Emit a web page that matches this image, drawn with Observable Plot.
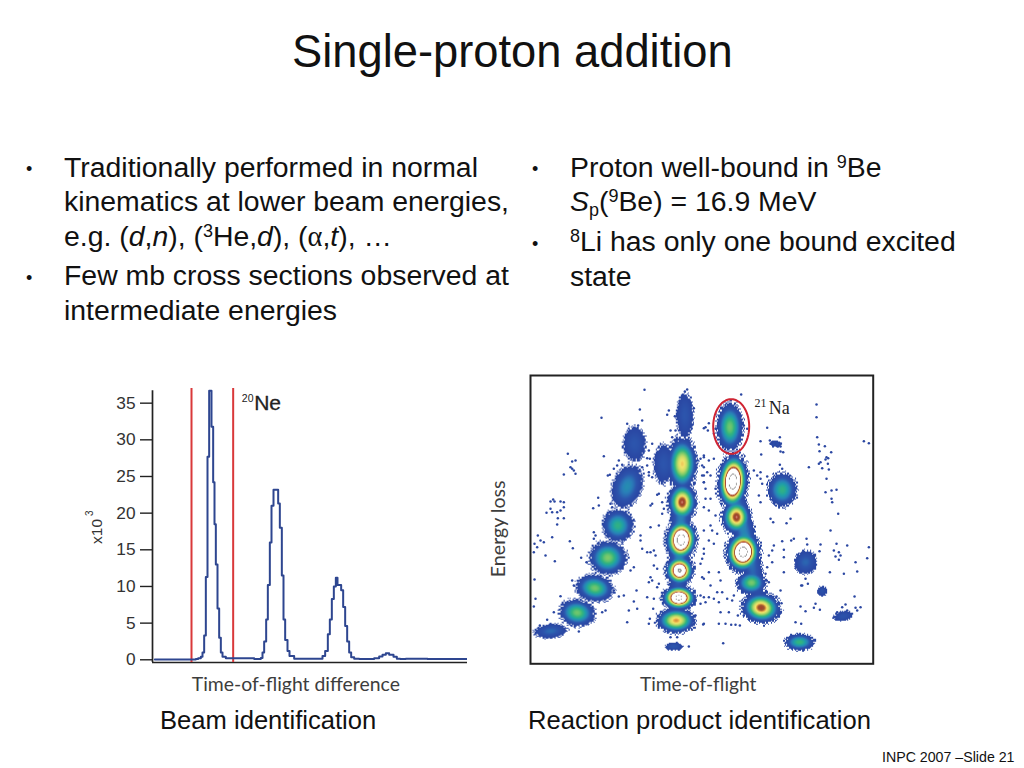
<!DOCTYPE html>
<html><head><meta charset="utf-8">
<script src="https://cdn.jsdelivr.net/npm/d3@7"></script>
<script src="https://cdn.jsdelivr.net/npm/@observablehq/plot@0.6"></script>
<style>
html,body{margin:0;padding:0;background:#fff;width:1024px;height:768px;overflow:hidden}
body{font-family:"Liberation Sans",Arial,sans-serif;color:#111;position:relative}
.t{position:absolute;white-space:nowrap;line-height:34px;font-size:28.4px}
.t sup{font-size:18px;line-height:0;vertical-align:9px}
.t sub{font-size:18px;line-height:0;vertical-align:-5px}
.b{position:absolute;font-size:18px;line-height:20px}
.chart{position:absolute}
.chart svg{display:block;overflow:visible}
#pid image{filter:blur(0.35px)}
</style></head><body>
<div class="t" style="left:292px;top:30px;font-size:45.3px;line-height:44px">Single-proton addition</div>

<div class="b" style="left:26px;top:159px">•</div>
<div class="t" style="left:64px;top:150px">Traditionally performed in normal</div>
<div class="t" style="left:64px;top:184px">kinematics at lower beam energies,</div>
<div class="t" style="left:64px;top:219px">e.g. (<i>d</i>,<i>n</i>), (<sup>3</sup>He,<i>d</i>), (<span style="font-family:'Liberation Serif'">α</span>,<i>t</i>), …</div>
<div class="b" style="left:26px;top:268px">•</div>
<div class="t" style="left:64px;top:258px">Few mb cross sections observed at</div>
<div class="t" style="left:64px;top:293px">intermediate energies</div>

<div class="b" style="left:532px;top:159px">•</div>
<div class="t" style="left:570px;top:150px">Proton well-bound in <sup>9</sup>Be</div>
<div class="t" style="left:570px;top:184px"><i>S</i><sub>p</sub>(<sup>9</sup>Be) = 16.9 MeV</div>
<div class="b" style="left:532px;top:234px">•</div>
<div class="t" style="left:570px;top:224px"><sup>8</sup>Li has only one bound excited</div>
<div class="t" style="left:570px;top:259px">state</div>

<div class="chart" id="beam" style="left:80px;top:375px"></div>
<div class="chart" id="pid" style="left:485px;top:365px"></div>

<div class="t" style="left:160px;top:703px;font-size:25.6px">Beam identification</div>
<div class="t" style="left:528px;top:703px;font-size:25.6px">Reaction product identification</div>
<div class="t" style="left:882px;top:749px;font-size:14.2px;line-height:16px">INPC 2007 –Slide 21</div>

<script>
// ---- Beam identification spectrum (arbitrary time-of-flight channel, counts ×10³)
const beamTof = [7,85,130,137,145,150,155,160,165,170,177,182,186,190,195,200,205,210,220,242,275,305,325,330,335,341,346,352,357,363,377,382,388,393,398,405,411,425,485,510,518,526,532,538,544,550,555,566,572,578,584,590,596,605,620,665,680,690,700,710,723,733,743,760,825,845,945];
const beamCounts = [0.05,0.05,0.1,0.2,0.4,1.0,3.3,11.3,27.7,36.7,31.8,24.2,18.5,13,7,3,1.0,0.4,0.2,0.2,0.2,0.1,0.25,1.0,2.5,5.5,10.2,16,21,23.2,21.3,18,11.5,5.5,2.7,1.2,0.5,0.15,0.15,0.5,1.2,3.5,5.5,8.3,10,11.2,10.2,9.5,7.2,4.6,2.5,1.0,0.35,0.15,0.1,0.2,0.45,0.7,0.9,0.7,0.4,0.15,0.1,0.15,0.1,0.1,0.1];
const beamTicks = [0,5,10,15,20,25,30,35];
const gateTof = [117,242];

// ---- Particle identification clusters (time-of-flight, energy loss, half widths, tilt, peak level)
const clusterTof   = [60,140,193,232,262,290,312,430,437,445,447,452,455,455,400,463,598,607,617,637,662,692,807,755,825,735,938,875,448,644];
const clusterLoss  = [98,153,227,318,415,532,660,52,130,198,280,372,485,600,600,745,710,547,440,335,243,168,65,522,305,660,143,218,370,380];
const clusterHalfX = [47,53,55,55,46,43,33,26,58,52,44,48,44,45,30,25,40,46,44,52,44,58,44,43,33,16,28,14,32,32];
const clusterHalfY = [21,40,40,50,48,65,50,12,38,38,44,62,58,80,57,65,72,85,52,62,36,46,25,50,35,10,14,15,240,230];
const clusterTilt  = [5,-8,-10,0,0,-20,0,0,0,0,0,-6,0,0,0,0,0,-4,0,-8,0,-8,0,0,-25,0,10,0,-2.5,12.6];
const clusterPeak  = [1.5,4.8,4.8,5,3.8,2.4,1.0,1.0,7.4,13,12.2,13.5,8.2,7,1.0,1.0,4.8,14,8.2,13.5,4.8,8.2,4,3.8,1.4,0.7,0.8,0.7,2.2,2.2];
const densityLevels = [0,1,2,3,4,5,6,6.8,7.2,7.8,8.3,8.6,8.9,12,12.1,12.4,12.5];
const densityColors = ["#2a47a3","#2c55ad","#2a7fb8","#1fa0a8","#35b57c","#7fcb6a","#c9dc66","#f1e36c","#eeb04a","#9a5a30","#a83a2a","#e8c8a8","#ffffff","#ffffff","#888888","#888888","#ffffff"];

// ---- Isolated counts, one list per quadrant with its own origin
const upperLeftTof  = [342,463,470,213,328,415,410,433,490,335,112,125,135,120,130,125,100,135,220,290,323,265,260,250,275,232,238,68,60,72,90,100,100,90,80,65,60,48,100,82,203,188,205,240,245,365,355,358,350,335,350,355,355,365,385,380,365,360,395,400,395,420,435,425,520,520,515,520,520];
const upperLeftDrop = [43,48,42,127,102,105,118,122,98,135,235,258,255,275,285,280,297,295,242,145,150,255,270,280,268,300,298,372,378,378,378,380,395,405,410,410,400,412,428,428,367,398,390,385,395,205,225,250,248,275,270,290,300,305,355,358,385,390,380,400,415,165,165,185,158,240,270,300,320];
const upperRightTof  = [122,348,348,200,180,238,210,215,225,230,240,208,240,182,248,240,238,245,325,350,355,373,392,357,378,383,375,360,355,382,365,385,378,375,393,408,393,395,413,490,505,200,180,180,160,170,185,175,180,210,270,15,25,22,45,40,0,10,25,40,10,20,5,30,10,15,45,15,30,10,25,45,130,140];
const upperRightDrop = [57,87,125,157,197,185,205,200,205,212,205,195,213,237,230,228,268,280,275,185,207,212,230,227,245,248,252,260,265,265,278,282,310,350,345,343,370,380,415,197,203,303,290,310,285,300,325,360,380,430,430,155,143,165,160,175,250,245,255,250,275,290,300,300,320,340,340,370,370,395,405,420,150,160];
const lowerLeftTof  = [80,22,30,12,20,10,40,65,118,127,73,45,12,15,10,90,125,130,152,190,195,190,168,300,310,318,250,265,280,310,320,295,290,225,215,70,50,28,145,330,330,335,350,360,370,375,370,380,360,365,355,385,380,350,370,368,358,355,420,440,475,495,490,490,520,510,510,515,510,520,360,385];
const lowerLeftDrop = [12,45,60,70,80,95,65,50,62,83,122,105,177,235,258,227,180,195,112,35,45,55,125,150,140,210,210,228,225,243,265,270,305,270,275,275,298,315,333,45,60,85,95,95,90,105,135,145,170,180,185,190,200,230,235,265,295,310,350,350,378,285,300,310,310,250,225,170,130,100,20,15];
const lowerRightTof  = [218,258,390,245,272,280,318,320,360,357,408,440,505,400,415,420,405,415,465,500,388,430,470,250,220,215,250,250,205,215,200,195,205,315,305,322,302,345,340,358,300,315,285,302,462,435,425,440,465,480,470,410,400,30,10,35,50,25,40,10,5,25,55,60,10,30,50,65,10,25,40,15,55,80,95,100,60,85,112,130,8,55,75,92,105,118,68,240,228,243];
const lowerRightDrop = [5,8,30,62,60,55,55,72,72,92,70,75,80,90,95,105,108,118,125,113,155,160,153,155,75,90,88,110,105,125,140,160,185,175,195,190,195,250,262,268,258,272,305,310,228,252,260,270,262,260,270,275,290,15,30,30,40,60,70,85,115,155,155,180,175,195,215,215,230,230,235,245,245,235,240,225,275,275,285,285,312,310,310,313,313,315,368,210,228,248];
const naEllipse = {tof: 602, loss: 712, halfX: 54, halfY: 82};

// ---- Beam spectrum
const beam = beamTof.map((x,i)=>({x,y:beamCounts[i]}));
document.getElementById("beam").append(Plot.plot({
  width:400,height:330,marginLeft:72,marginRight:13,marginTop:13,marginBottom:43,
  x:{domain:[0,945],axis:null},
  y:{domain:[-0.37,37],axis:null},
  style:{background:"transparent",fontFamily:"Liberation Sans"},
  marks:[
    Plot.axisY(beamTicks,{anchor:"left",label:null,tickSize:12,tickPadding:5,fontSize:17.3,stroke:"#222",strokeWidth:1.4,fill:"#333"}),
    Plot.ruleX([0],{y1:-0.37,y2:36.7,stroke:"#222",strokeWidth:1.7}),
    Plot.ruleY([-0.37],{x1:0,x2:945,stroke:"#222",strokeWidth:1.7}),
    Plot.ruleX(gateTof,{y1:-0.37,y2:37,stroke:"#d9383a",strokeWidth:2}),
    Plot.line(beam,{x:"x",y:"y",curve:"step-after",stroke:"#2e4690",strokeWidth:2,clip:true}),
    Plot.text(["20"],{x:[268],y:[35.6],text:d=>d,fontSize:10.5,fill:"#222",textAnchor:"start"}),
    Plot.text(["Ne"],{x:[305],y:[35],text:d=>d,fontSize:21,fill:"#222",stroke:"#222",strokeWidth:0.3,textAnchor:"start"}),
    Plot.text(["x10"],{x:[-165],y:[17.5],text:d=>d,fontSize:15.5,fill:"#333",rotate:-90,textAnchor:"middle"}),
    Plot.text(["3"],{x:[-189],y:[20],text:d=>d,fontSize:10,fill:"#333",rotate:-90,textAnchor:"middle"}),
    Plot.text(["Time-of-flight difference"],{x:[430],y:[-0.37],text:d=>d,dy:22,fontSize:19.4,fill:"#3d3d3d",fontFamily:"Lato",textAnchor:"middle"})
  ]
}));

// ---- Particle identification: density surface built from the read clusters
const clusters = clusterTof.map((x,i)=>({x,y:clusterLoss[i],a:clusterHalfX[i],b:clusterHalfY[i],t:clusterTilt[i]*Math.PI/180,p:clusterPeak[i]}));
const halftone = [37,12,52,3,44,21,60,9,5,58,26,47,15,33,1,49,41,18,35,8,62,24,55,28,63,0,54,30,11,42,6,38,23,46,14,59,36,19,51,16,10,32,39,2,48,27,61,4,56,20,7,43,13,57,31,45,29,50,25,53,34,22,40,17];
const W=1028,H=865,NX=342,NY=288;
function density(x,y){
  let top=0,sum=0,cover=0;
  for(const c of clusters){
    const dx=x-c.x,dy=y-c.y;
    const u=(dx*Math.cos(c.t)+dy*Math.sin(c.t))/c.a, v=(-dx*Math.sin(c.t)+dy*Math.cos(c.t))/c.b;
    const d2=u*u+v*v;
    if(d2<1) {const s=c.p*(1-d2)*(1-d2); sum+=s; if(s>top) top=s;}
    const d=Math.sqrt(d2);
    if(d<1.2) cover=Math.max(cover,Math.min(1,(1.2-d)/0.32));
  }
  const s=top+0.2*(sum-top);
  if(s>=0.9) return s;
  if(cover<=0) return NaN;
  const i=Math.floor(x/W*NX/1.5)%8,j=Math.floor(y/H*NY/1.5)%8;
  return cover*64>halftone[i*8+j]+0.5?Math.min(s,0.9):NaN;
}
const pts=[];
const addStrays=(tof,drop,tof0,loss0)=>tof.forEach((t,k)=>pts.push({x:tof0+t,y:loss0-drop[k]}));
addStrays(upperLeftTof,upperLeftDrop,0,865);
addStrays(upperRightTof,upperRightDrop,510,865);
addStrays(lowerLeftTof,lowerLeftDrop,0,430);
addStrays(lowerRightTof,lowerRightDrop,510,430);
const ringAngles=d3.range(0,361,6);
const ring=ringAngles.map(a=>({x:naEllipse.tof+naEllipse.halfX*Math.cos(a*Math.PI/180),y:naEllipse.loss+naEllipse.halfY*Math.sin(a*Math.PI/180)}));

document.getElementById("pid").append(Plot.plot({
  width:400,height:340,marginLeft:45,marginRight:12.3,marginTop:10,marginBottom:41.7,
  x:{domain:[0,W],axis:null},
  y:{domain:[0,H],axis:null},
  color:{type:"linear",domain:densityLevels,range:densityColors,interpolate:"rgb",clamp:true},
  style:{background:"transparent",fontFamily:"Liberation Sans"},
  marks:[
    Plot.raster({x1:0,x2:W,y1:0,y2:H,width:NX,height:NY,fill:density}),
    Plot.dot(pts,{x:"x",y:"y",r:1.25,fill:"#2b47a2"}),
    Plot.frame({stroke:"#222",strokeWidth:2}),
    Plot.line(ring,{x:"x",y:"y",stroke:"#cf2433",strokeWidth:2,curve:"linear"}),
    Plot.text(["21"],{x:[672],y:[783],text:d=>d,fontSize:12,fill:"#222",fontFamily:"Liberation Serif",textAnchor:"start"}),
    Plot.text(["Na"],{x:[715],y:[766],text:d=>d,fontSize:18,fill:"#222",fontFamily:"Liberation Serif",textAnchor:"start"}),
    Plot.text(["Time-of-flight"],{x:[503],y:[0],text:d=>d,dy:21,fontSize:19.2,fill:"#3d3d3d",fontFamily:"Lato",textAnchor:"middle"}),
    Plot.text(["Energy loss"],{x:[0],y:[405],text:d=>d,dx:-32,fontSize:19.6,fill:"#3d3d3d",fontFamily:"Lato",rotate:-90,textAnchor:"middle"})
  ]
}));
</script>
</body></html>
